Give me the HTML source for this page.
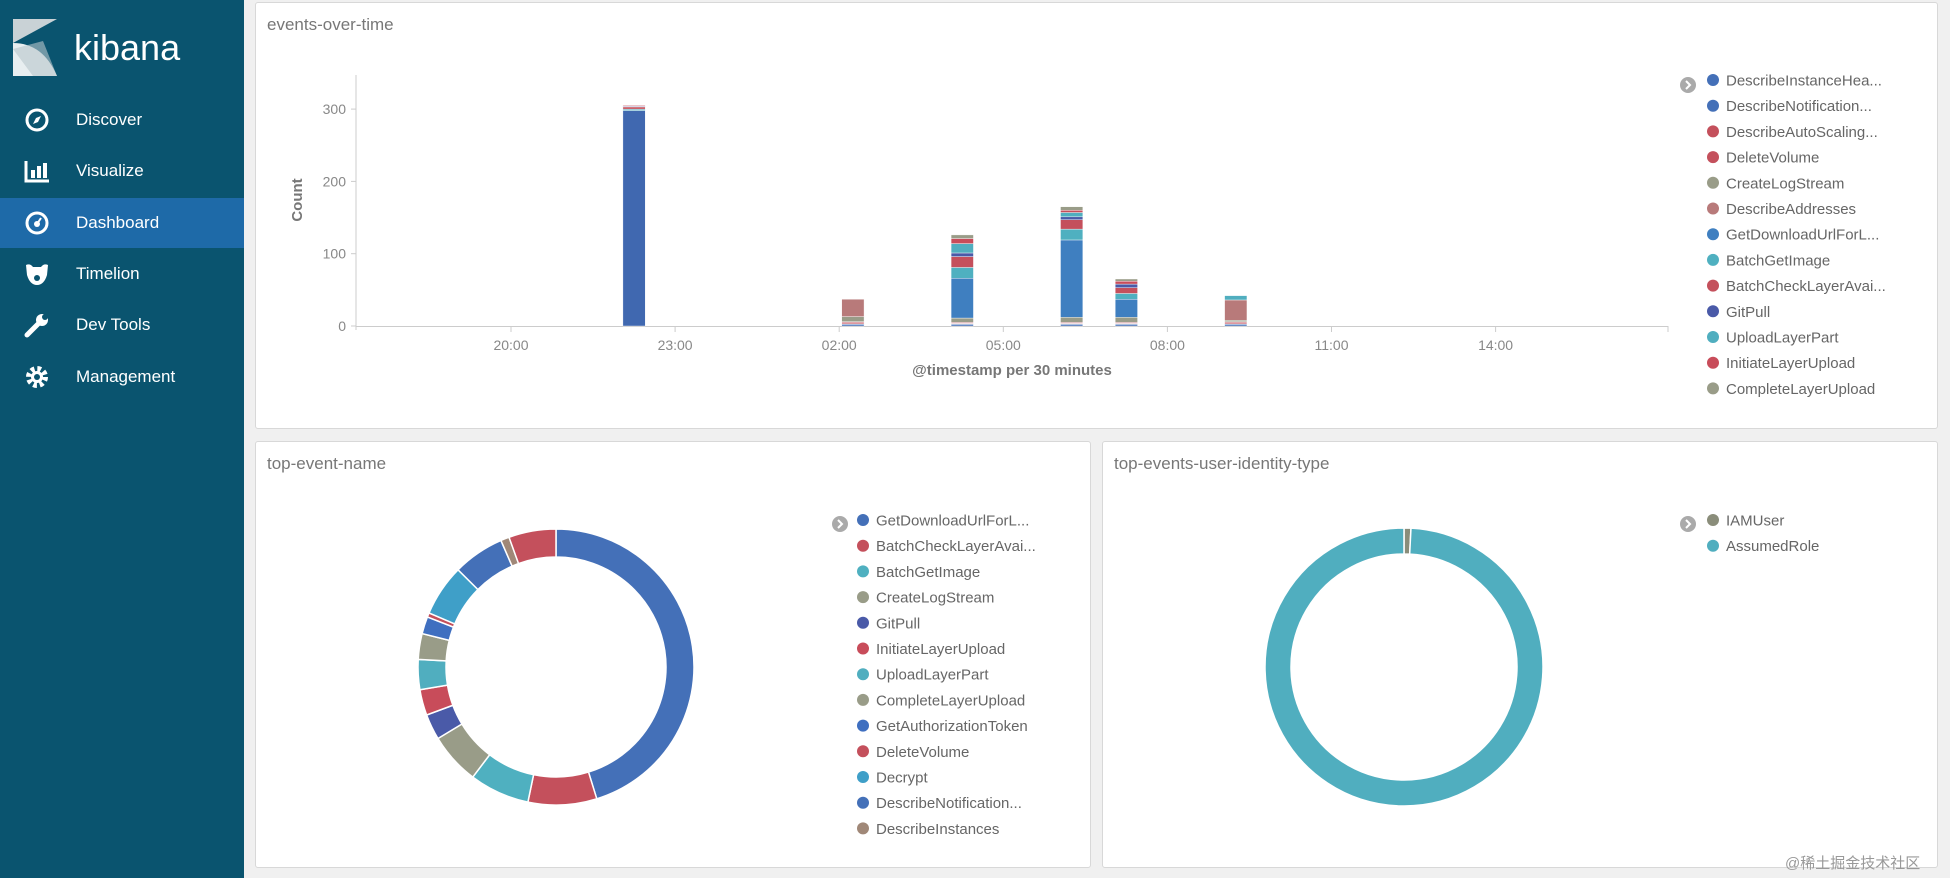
<!DOCTYPE html>
<html><head><meta charset="utf-8">
<style>
*{box-sizing:border-box;margin:0;padding:0}
body{width:1950px;height:878px;overflow:hidden;background:#f0f0f0;font-family:"Liberation Sans",sans-serif;position:relative}
#sidebar{position:absolute;left:0;top:0;width:244px;height:878px;background:#0a546f}
.nav{position:absolute;left:0;width:244px;height:50px;color:#fff;font-size:17px}
.nav .lbl{position:absolute;left:76px;top:15px}
.nav svg{position:absolute;left:24px;top:12px}
.panel{position:absolute;background:#fff;border:1px solid #d8d8d8;border-radius:3px}
.ptitle{position:absolute;left:11px;top:12px;font-size:17px;color:#777}
</style></head><body>
<div id="sidebar">
 <svg style="position:absolute;left:13px;top:19px" width="46" height="57" viewBox="0 0 46 57">
  <polygon points="0,0 44,0 0,24" fill="#c9d2d6"/>
  <path d="M0,24 Q30,24 44,57 L0,57 Z" fill="#e8eef0"/>
  <path d="M0,30 L30,22 L44,57 L20,57 Z" fill="#b8c6cb" opacity="0.6"/>
 </svg>
 <div style="position:absolute;left:74px;top:27px;font-size:36px;color:#fff;font-weight:normal">kibana</div>
 <div class="nav" style="top:95px"><svg width="26" height="26" viewBox="0 0 26 26"><circle cx="13" cy="13" r="10" fill="none" stroke="#fff" stroke-width="3"/><polygon points="17,9 14,15 9,17 12,11" fill="#fff"/></svg><span class="lbl">Discover</span></div>
 <div class="nav" style="top:146px"><svg width="26" height="26" viewBox="0 0 26 26"><path d="M2,3 V23 H25" fill="none" stroke="#fff" stroke-width="3"/><rect x="7" y="12" width="4" height="8" fill="#fff"/><rect x="13" y="8" width="4" height="12" fill="#fff"/><rect x="19" y="5" width="4" height="15" fill="#fff"/></svg><span class="lbl">Visualize</span></div>
 <div class="nav" style="top:198px;background:#1e6aa8"><svg width="26" height="26" viewBox="0 0 26 26"><circle cx="13" cy="13" r="10" fill="none" stroke="#fff" stroke-width="3"/><circle cx="13" cy="14" r="3" fill="#fff"/><line x1="13" y1="14" x2="17" y2="8" stroke="#fff" stroke-width="2"/></svg><span class="lbl">Dashboard</span></div>
 <div class="nav" style="top:249px"><svg width="26" height="26" viewBox="0 0 26 26"><path d="M2,4 Q6,2 9,6 H17 Q20,2 24,4 L23,14 Q20,24 13,24 Q6,24 3,14 Z" fill="#fff"/><circle cx="13" cy="17" r="3" fill="#0a546f"/></svg><span class="lbl">Timelion</span></div>
 <div class="nav" style="top:300px"><svg width="26" height="26" viewBox="0 0 26 26"><path d="M3,23 L14,12" stroke="#fff" stroke-width="5" stroke-linecap="round"/><circle cx="18" cy="8" r="6" fill="#fff"/><circle cx="21" cy="5" r="3" fill="#0a546f"/></svg><span class="lbl">Dev Tools</span></div>
 <div class="nav" style="top:352px"><svg width="26" height="26" viewBox="0 0 26 26"><circle cx="13" cy="13" r="8" fill="none" stroke="#fff" stroke-width="6" stroke-dasharray="3.5 2.8"/><circle cx="13" cy="13" r="6" fill="#fff"/><circle cx="13" cy="13" r="3" fill="#0a546f"/></svg><span class="lbl">Management</span></div>
</div>

<div class="panel" style="left:255px;top:2px;width:1683px;height:427px">
 <div class="ptitle">events-over-time</div>
</div>
<div class="panel" style="left:255px;top:441px;width:836px;height:427px">
 <div class="ptitle">top-event-name</div>
</div>
<div class="panel" style="left:1102px;top:441px;width:836px;height:427px">
 <div class="ptitle">top-events-user-identity-type</div>
</div>

<svg id="chart" width="1950" height="878" style="position:absolute;left:0;top:0" font-family="Liberation Sans, sans-serif"></svg>
<div style="position:absolute;left:1785px;top:852px;font-size:15px;color:#999;font-family:'Liberation Sans','Noto Sans CJK SC',sans-serif">@稀土掘金技术社区</div>

<script>
const barTimes = [4, 12, 16, 20, 22, 26]; // 30-min buckets after 20:00
const seriesNames = ["DescribeInstanceHea...","DescribeNotification...","DescribeAutoScaling...","DeleteVolume","CreateLogStream","DescribeAddresses","GetDownloadUrlForL...","BatchGetImage","BatchCheckLayerAvai...","GitPull","UploadLayerPart","InitiateLayerUpload","CompleteLayerUpload"];
const seriesColors = ["#4470b8","#4470b8","#c4505c","#c4505c","#999c88","#b87a7a","#3f7fc0","#4fb0c0","#c4505c","#4a5aa8","#50aebf","#c84c5a","#999c88"];
const s0 = [0,2,2,2,2,2];
const s1 = [0,1,1,1,1,1];
const s2 = [0,2,1,1,1,2];
const s3 = [0,1,1,1,1,1];
const s4 = [0,7,6,7,7,2];
const s5 = [0,24,0,0,0,28];
const s6 = [298,0,55,107,25,0];
const s7 = [2,0,15,15,8,0];
const s8 = [3,0,15,13,8,0];
const s9 = [1,0,5,4,5,0];
const s10 = [0,0,13,6,0,6];
const s11 = [1,0,7,3,4,0];
const s12 = [0,0,5,5,3,0];
const seriesValues = [s0,s1,s2,s3,s4,s5,s6,s7,s8,s9,s10,s11,s12];
const yTicks = [0,100,200,300];
const xTickLabels = ["20:00","23:00","02:00","05:00","08:00","11:00","14:00"];
const xTickBuckets = [0,6,12,18,24,30,36];

const pieNames = ["GetDownloadUrlForL...","BatchCheckLayerAvai...","BatchGetImage","CreateLogStream","GitPull","InitiateLayerUpload","UploadLayerPart","CompleteLayerUpload","GetAuthorizationToken","DeleteVolume","Decrypt","DescribeNotification...","DescribeInstances"];
const pieColors = ["#4470b8","#c4505c","#4fb0c0","#999c88","#4a5aa8","#c84c5a","#50aebf","#999c88","#3f6fc0","#c4505c","#3f9fc8","#4470b8","#a08878","#c4505c"];
const pieValues = [45,8,7,6,3,3,3.5,3,2,0.5,6,6,1,5.5];
const idNames = ["IAMUser","AssumedRole"];
const idColors = ["#8a8d7a","#50aebf"];
const idValues = [0.8,99.2];

const NS="http://www.w3.org/2000/svg";
const svg=document.getElementById('chart');
function mk(tag,attrs,parent){const e=document.createElementNS(NS,tag);for(const k in attrs)e.setAttribute(k,attrs[k]);(parent||svg).appendChild(e);return e;}

const X0=511, BW=27.35, Y0=326, YS=72.3/100;
const xs=b=>X0+b*BW;
const ys=v=>Y0-v*YS;
const ax=mk('g',{});


mk('line',{x1:356,y1:75,x2:356,y2:330,stroke:'#ccc'},ax);
yTicks.forEach(t=>{
 mk('line',{x1:351,y1:ys(t),x2:356,y2:ys(t),stroke:'#ccc'},ax);
 const tx=mk('text',{x:346,y:ys(t)+5,'text-anchor':'end','font-size':14,fill:'#888'},ax);tx.textContent=t;
});
const yt=mk('text',{transform:'translate(302,200) rotate(-90)','text-anchor':'middle','font-size':15,'font-weight':'bold',fill:'#777'});


yt.textContent='Count';
const xa=mk('g',{});


mk('line',{x1:356,y1:Y0+0.5,x2:1668,y2:Y0+0.5,stroke:'#ccc'},xa);
mk('line',{x1:1668,y1:Y0,x2:1668,y2:332,stroke:'#ccc'},xa);
xTickLabels.forEach((l,i)=>{
 const x=xs(xTickBuckets[i]);
 mk('line',{x1:x,y1:Y0,x2:x,y2:332,stroke:'#ccc'},xa);
 const tx=mk('text',{x:x,y:350,'text-anchor':'middle','font-size':14,fill:'#888'},xa);tx.textContent=l;
});
const xt=mk('text',{x:1012,y:375,'text-anchor':'middle','font-size':15,'font-weight':'bold',fill:'#777'});


xt.textContent='@timestamp per 30 minutes';

barTimes.forEach((b,bi)=>{
 let acc=0;
 seriesValues.forEach((sv,si)=>{
  const v=sv[bi]; if(!v) return;
  const col = (si===6 && bi===0) ? '#4068b0' : seriesColors[si];
  const r=mk('rect',{x:xs(b)+2.5,y:ys(acc+v),width:BW-5,height:v*YS,fill:col,stroke:'#fff','stroke-width':0.4});
  
  
  acc+=v;
 });
});

function chevron(x,y){
 const g=mk('g',{});
 
 
 mk('circle',{cx:x,cy:y,r:8,fill:'#aaa'},g);
 mk('path',{d:`M${x-2},${y-4} L${x+2},${y} L${x-2},${y+4}`,stroke:'#fff','stroke-width':2,fill:'none'},g);
}
function legend(names,colors,x,y){
 names.forEach((n,i)=>{
  const g=mk('g',{});
  
  
  mk('circle',{cx:x,cy:y+i*25.7,r:6,fill:colors[i]},g);
  const t=mk('text',{x:x+13,y:y+i*25.7+5.5,'font-size':15,fill:'#666'},g);t.textContent=n;
 });
}
chevron(1688,85);legend(seriesNames,seriesColors,1713,80);
chevron(840,524);legend(pieNames,pieColors,863,520);
chevron(1688,524);legend(idNames,idColors,1713,520);

function donut(vals,colors,cx,cy,R,r,name){
 const tot=vals.reduce((a,b)=>a+b,0);let a0=0;
 vals.forEach((v,i)=>{
  const a1=a0+v/tot*2*Math.PI;
  const p=(a,rad)=>[cx+rad*Math.sin(a),cy-rad*Math.cos(a)];
  const [x1,y1]=p(a0,R),[x2,y2]=p(a1,R),[x3,y3]=p(a1,r),[x4,y4]=p(a0,r);
  const lg=(a1-a0)>Math.PI?1:0;
  const s=mk('path',{d:`M${x1},${y1} A${R},${R} 0 ${lg} 1 ${x2},${y2} L${x3},${y3} A${r},${r} 0 ${lg} 0 ${x4},${y4} Z`,fill:colors[i],stroke:'#fff','stroke-width':1.5});
  
  
  a0=a1;
 });
}
donut(pieValues,pieColors,556,667,138,110,'pie-slice');
donut(idValues,idColors,1404,667,139,113,'identity-slice');
</script>
</body></html>
